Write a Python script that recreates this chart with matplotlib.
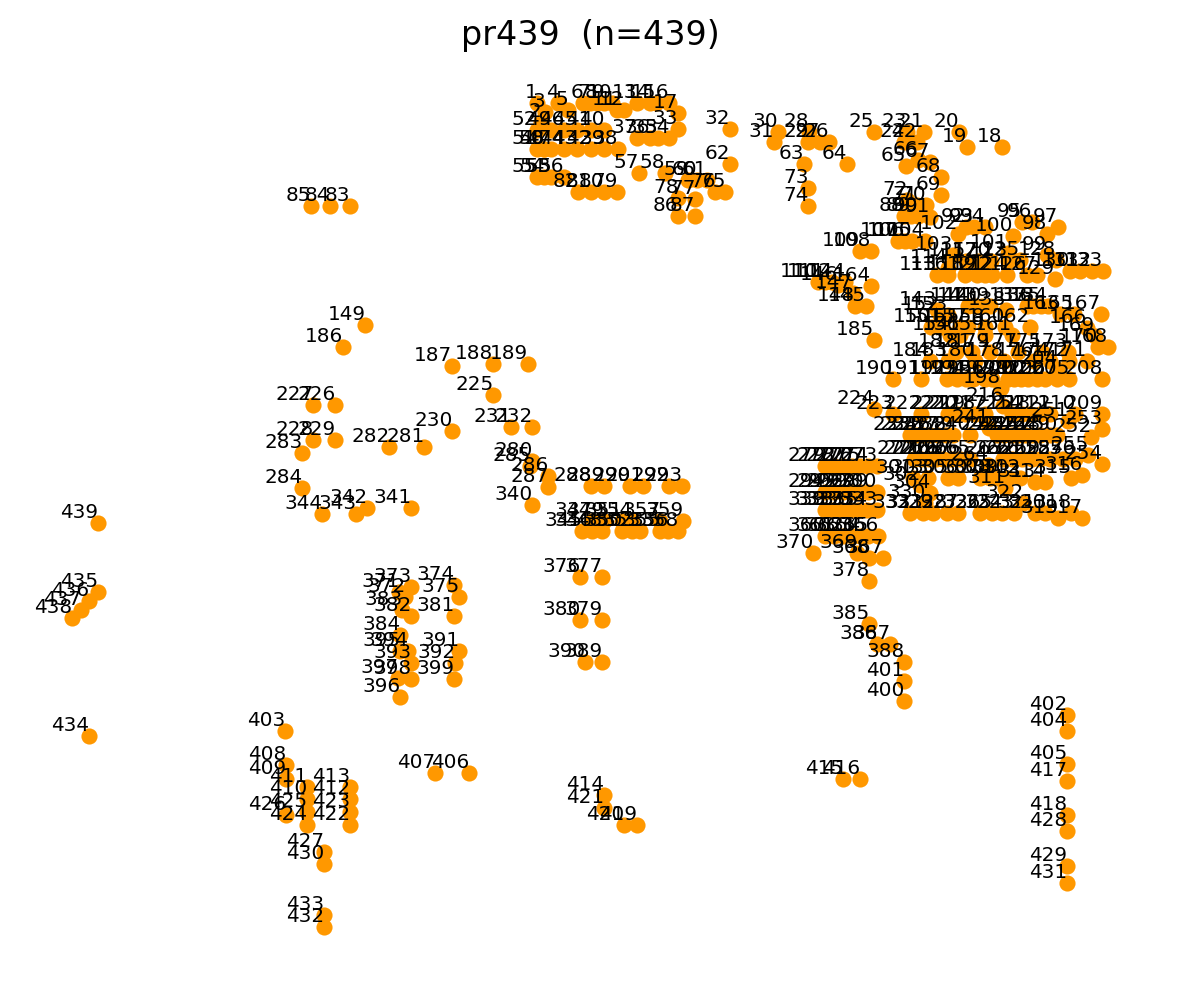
import matplotlib
matplotlib.use("Agg")
import matplotlib.pyplot as plt

x_values = [
    537,541,545,558,568,583,590,597,604,612,
    617,624,637,650,656,669,678,1002,967,959,
    924,917,907,904,874,829,820,809,808,778,
    774,730,678,669,658,650,637,618,604,604,
    591,591,577,564,577,564,551,544,551,544,
    537,537,551,544,537,564,639,665,688,697,
    707,730,804,847,906,918,930,941,941,926,
    917,907,808,808,725,715,695,678,617,604,
    591,578,350,330,311,678,695,904,911,918,
    930,966,974,985,1022,1032,1058,1047,1047,1013,
    1008,958,953,925,912,905,898,871,860,818,
    825,832,937,948,966,948,978,965,977,991,
    985,992,1008,1007,1020,1027,1037,1056,1055,1070,
    1080,1092,1103,1048,1041,1033,1027,1006,990,982,
    975,968,937,845,866,838,853,855,365,931,
    942,940,948,950,960,960,968,985,985,1005,
    1012,1030,1060,871,1074,1087,1101,1108,1095,1098,
    1087,1069,1068,1050,1042,1034,1018,1004,990,975,
    972,956,948,930,874,343,452,493,528,893,
    921,947,957,966,973,985,992,1001,1008,1014,
    1021,1028,1037,1057,1069,1045,1057,1102,1102,1075,
    1050,1040,1030,1022,1012,1003,985,975,965,957,
    948,921,893,874,493,335,313,313,335,452,
    511,532,910,917,923,930,938,946,953,970,
    989,997,1004,1012,1018,1025,1032,1040,1050,1057,
    1068,1091,1102,1102,1088,1075,1063,1050,1040,1032,
    1022,1012,1003,988,970,960,951,943,936,929,
    921,914,877,868,860,852,843,834,825,532,
    424,389,302,302,530,548,548,591,604,630,
    643,669,682,825,834,843,852,860,868,877,
    913,920,928,930,948,958,980,990,998,1008,
    1005,1020,1035,1045,1071,1082,1082,1071,1058,1045,
    1035,1023,1014,1002,992,980,958,947,933,925,
    923,910,877,867,858,850,842,833,825,532,
    411,367,356,322,582,592,592,602,604,622,
    622,632,640,632,660,668,660,678,683,825,
    834,843,852,860,868,878,883,869,857,813,
    399,405,411,454,459,580,602,869,602,580,
    454,411,402,400,869,877,890,904,602,585,
    459,455,411,408,400,400,398,411,454,904,
    904,1067,285,1067,1067,469,435,286,286,307,
    307,350,350,604,843,860,1067,1067,637,624,
    604,350,350,307,307,286,324,1067,1067,324,
    1067,324,324,89,98,89,81,72,98,
]
y_values = [
    103,122,112,103,110,103,103,103,103,103,
    110,110,103,103,103,103,113,147,147,132,
    132,142,132,142,132,142,142,132,142,132,
    142,129,129,138,138,138,138,149,149,130,
    130,149,149,149,130,130,149,149,130,149,
    149,130,177,177,177,177,173,173,180,180,
    180,164,164,164,166,160,162,177,195,205,
    205,200,188,206,192,192,199,198,192,192,
    192,192,206,206,206,216,216,216,216,216,
    217,227,227,227,222,222,227,234,255,236,
    253,234,255,241,241,241,241,251,251,282,
    282,282,275,268,261,275,261,275,275,261,
    275,275,261,275,260,275,275,260,279,271,
    271,271,271,306,306,306,306,310,306,306,
    306,306,310,282,306,285,293,306,325,327,
    327,315,315,335,327,335,327,327,335,327,
    335,327,314,286,314,328,314,347,336,347,
    361,361,352,361,352,361,352,361,352,361,
    352,352,361,361,340,347,366,364,364,379,
    379,379,379,379,379,379,379,388,379,379,
    379,379,379,369,379,379,379,379,414,414,
    414,414,414,414,414,406,414,414,414,414,
    414,414,414,409,395,405,405,440,440,431,
    427,427,435,435,435,435,435,435,435,435,
    428,435,435,435,435,435,435,435,435,435,
    421,437,429,464,455,459,459,459,459,459,
    459,459,459,465,459,459,459,459,459,459,
    459,459,466,466,466,466,466,466,466,461,
    447,447,453,488,466,476,487,486,486,486,
    486,486,486,492,492,492,492,492,492,492,
    478,485,478,493,478,478,478,478,478,478,
    488,478,482,482,478,475,518,513,518,513,
    513,503,513,513,513,513,513,513,513,503,
    513,513,510,510,510,510,510,510,510,505,
    508,508,514,514,531,531,521,531,521,531,
    521,531,531,521,531,531,521,531,521,536,
    536,536,536,536,536,536,558,558,553,553,
    592,597,587,585,597,577,577,581,620,620,
    616,616,610,635,624,644,644,662,662,662,
    651,663,663,651,651,697,678,679,679,701,
    681,715,731,731,764,773,773,765,779,799,
    787,799,787,795,779,779,781,815,825,825,
    808,825,812,825,812,815,852,831,866,864,
    883,927,915,736,592,601,610,618,523,
]
point_labels = [str(i + 1) for i in range(len(x_values))]
title_text = "pr439  (n=439)"

fig = plt.figure(figsize=(11.8, 9.88), dpi=100)
ax = fig.add_axes([0, 0, 1, 1])
ax.set_xlim(0, 1180)
ax.set_ylim(988, 0)
ax.axis("off")
ax.scatter(x_values, y_values, s=135, color="#ff9800", linewidths=0, zorder=2)
for x, y, label in zip(x_values, y_values, point_labels):
    ax.annotate(label, (x, y), xytext=(0.3, 3.5), textcoords="offset points",
                ha="right", va="baseline", fontsize=14.4, color="black", zorder=3)
fig.text(0.5, 1 - 35 / 988, title_text, ha="center", va="center", fontsize=24)
fig.savefig("out.png", dpi=100)
